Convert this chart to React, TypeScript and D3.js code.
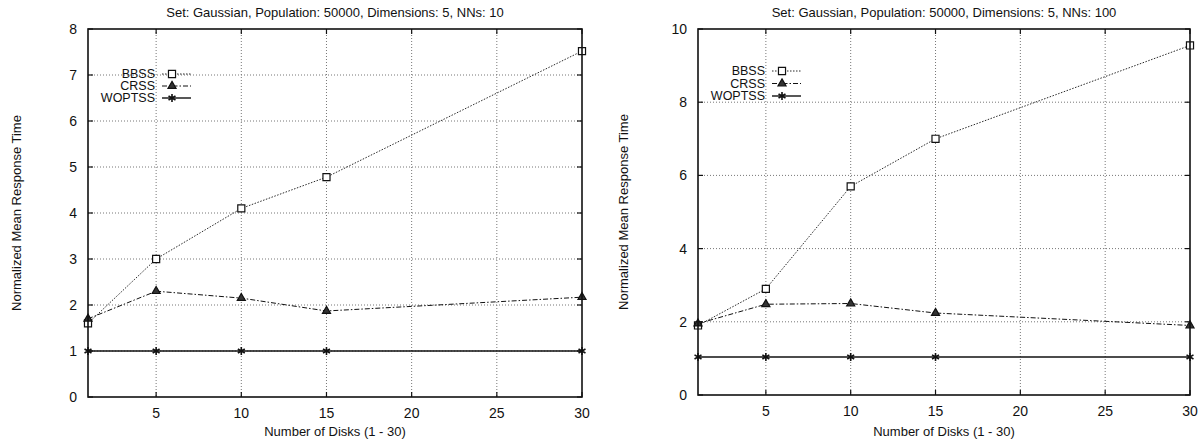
import { useEffect, useRef } from "react"
import * as d3 from "d3"

// x values: number of disks
const disks = [1, 5, 10, 15, 30]
const xTicks = [5, 10, 15, 20, 25, 30]

// left chart, NNs: 10
const bbss10 = [1.6, 3.0, 4.1, 4.78, 7.52]
const crss10 = [1.7, 2.3, 2.15, 1.87, 2.17]
const woptss10 = [1.0, 1.0, 1.0, 1.0, 1.0]
const yTicks10 = [0, 1, 2, 3, 4, 5, 6, 7, 8]

// right chart, NNs: 100
const bbss100 = [1.9, 2.9, 5.7, 7.0, 9.55]
const crss100 = [1.95, 2.48, 2.5, 2.24, 1.9]
const woptss100 = [1.04, 1.04, 1.04, 1.04, 1.04]
const yTicks100 = [0, 2, 4, 6, 8, 10]

const seriesNames = ["BBSS", "CRSS", "WOPTSS"]

const FONT = "'Liberation Sans', Arial, Helvetica, sans-serif"

type ChartProps = {
  title: string
  series: number[][]
  yMax: number
  yTicks: number[]
  box: { left: number; right: number; top: number; bottom: number }
  yLabelX: number
  legend: { textRight: number; y0: number; step: number }
}

const Chart = ({ title, series, yMax, yTicks, box, yLabelX, legend }: ChartProps) => {
  const gRef = useRef<SVGGElement>(null)

  useEffect(() => {
    const g = d3.select(gRef.current)
    g.selectAll("*").remove()

    const x = d3.scaleLinear().domain([1, 30]).range([box.left, box.right])
    const y = d3.scaleLinear().domain([0, yMax]).range([box.bottom, box.top])

    // grid lines
    g.append("g")
      .selectAll("line")
      .data(xTicks.filter((t) => t < 30))
      .enter()
      .append("line")
      .attr("x1", (d) => x(d)).attr("x2", (d) => x(d))
      .attr("y1", box.top).attr("y2", box.bottom)
      .attr("stroke", "#777").attr("stroke-width", 1)
      .attr("stroke-dasharray", "1,2")
    g.append("g")
      .selectAll("line")
      .data(yTicks.filter((t) => t > 0 && t < yMax))
      .enter()
      .append("line")
      .attr("x1", box.left).attr("x2", box.right)
      .attr("y1", (d) => y(d)).attr("y2", (d) => y(d))
      .attr("stroke", "#777").attr("stroke-width", 1)
      .attr("stroke-dasharray", "1,2")

    // small inward ticks on all four sides
    const ticks = g.append("g").attr("stroke", "#111").attr("stroke-width", 1.2)
    xTicks.forEach((t) => {
      ticks.append("line").attr("x1", x(t)).attr("x2", x(t)).attr("y1", box.bottom).attr("y2", box.bottom - 5)
      ticks.append("line").attr("x1", x(t)).attr("x2", x(t)).attr("y1", box.top).attr("y2", box.top + 5)
    })
    yTicks.forEach((t) => {
      ticks.append("line").attr("x1", box.left).attr("x2", box.left + 5).attr("y1", y(t)).attr("y2", y(t))
      ticks.append("line").attr("x1", box.right).attr("x2", box.right - 5).attr("y1", y(t)).attr("y2", y(t))
    })

    // tick labels
    g.append("g")
      .selectAll("text")
      .data(xTicks)
      .enter()
      .append("text")
      .attr("x", (d) => x(d)).attr("y", box.bottom + 21)
      .attr("text-anchor", "middle")
      .attr("font-size", 14)
      .attr("fill", "#111")
      .text((d) => d)
    g.append("g")
      .selectAll("text")
      .data(yTicks)
      .enter()
      .append("text")
      .attr("x", box.left - 11).attr("y", (d) => y(d))
      .attr("dy", "0.35em")
      .attr("text-anchor", "end")
      .attr("font-size", 14)
      .attr("fill", "#111")
      .text((d) => d)

    // titles
    const cx = (box.left + box.right) / 2
    g.append("text")
      .attr("x", cx).attr("y", 17)
      .attr("text-anchor", "middle").attr("font-size", 13).attr("fill", "#111")
      .text(title)
    g.append("text")
      .attr("x", cx).attr("y", 436)
      .attr("text-anchor", "middle").attr("font-size", 13).attr("fill", "#111")
      .text("Number of Disks (1 - 30)")
    g.append("text")
      .attr("transform", `translate(${yLabelX}, ${(box.top + box.bottom) / 2}) rotate(-90)`)
      .attr("text-anchor", "middle").attr("font-size", 13).attr("fill", "#111")
      .text("Normalized Mean Response Time")

    // lines
    const dashes = ["1.5,1.5", "5,2,1.5,2", null]
    const widths = [0.9, 1, 1.4]
    const symbols = [d3.symbolSquare, d3.symbolTriangle, d3.symbolAsterisk]
    const sizes = [50, 28, 45]
    const fills = ["white", "#333", "none"]
    const lineGen = d3.line<number>()
      .x((_, i) => x(disks[i]))
      .y((d) => y(d))

    series.forEach((vals, si) => {
      const path = g.append("path")
        .attr("fill", "none")
        .attr("stroke", "#111")
        .attr("stroke-width", widths[si])
        .attr("d", lineGen(vals))
      if (dashes[si]) path.attr("stroke-dasharray", dashes[si])

      g.append("g")
        .selectAll("path")
        .data(vals)
        .enter()
        .append("path")
        .attr("transform", (d, i) => `translate(${x(disks[i])}, ${y(d)})`)
        .attr("d", d3.symbol().type(symbols[si]).size(sizes[si])())
        .attr("fill", fills[si])
        .attr("stroke", "#111")
        .attr("stroke-width", si === 2 ? 1.6 : 1.2)

      // legend entry
      const ly = legend.y0 + si * legend.step
      g.append("text")
        .attr("x", legend.textRight).attr("y", ly)
        .attr("dy", "0.35em")
        .attr("text-anchor", "end").attr("font-size", 12.5).attr("fill", "#111")
        .text(seriesNames[si])
      const sample = g.append("line")
        .attr("x1", legend.textRight + 7).attr("x2", legend.textRight + 36)
        .attr("y1", ly).attr("y2", ly)
        .attr("stroke", "#111").attr("stroke-width", widths[si])
      if (dashes[si]) sample.attr("stroke-dasharray", dashes[si])
      g.append("path")
        .attr("transform", `translate(${legend.textRight + 17}, ${ly})`)
        .attr("d", d3.symbol().type(symbols[si]).size(sizes[si])())
        .attr("fill", fills[si])
        .attr("stroke", "#111")
        .attr("stroke-width", si === 2 ? 1.6 : 1.2)
    })

    // frame
    g.append("rect")
      .attr("x", box.left).attr("y", box.top)
      .attr("width", box.right - box.left).attr("height", box.bottom - box.top)
      .attr("fill", "none").attr("stroke", "#111").attr("stroke-width", 1.6)
  }, [title, series, yMax, yTicks, box, yLabelX, legend])

  return <g ref={gRef} />
}

const leftBox = { left: 88, right: 582, top: 29, bottom: 397 }
const rightBox = { left: 698, right: 1190, top: 29, bottom: 395 }

export default function App() {
  return (
    <svg
      width={1204}
      height={440}
      viewBox="0 0 1204 440"
      style={{ position: "absolute", left: 0, top: 0, background: "white", fontFamily: FONT }}
    >
      <rect width={1204} height={440} fill="white" />
      <Chart
        title="Set: Gaussian, Population: 50000, Dimensions: 5, NNs: 10"
        series={[bbss10, crss10, woptss10]}
        yMax={8}
        yTicks={yTicks10}
        box={leftBox}
        yLabelX={21}
        legend={{ textRight: 155, y0: 74, step: 12 }}
      />
      <Chart
        title="Set: Gaussian, Population: 50000, Dimensions: 5, NNs: 100"
        series={[bbss100, crss100, woptss100]}
        yMax={10}
        yTicks={yTicks100}
        box={rightBox}
        yLabelX={628}
        legend={{ textRight: 765, y0: 71, step: 12.5 }}
      />
    </svg>
  )
}
